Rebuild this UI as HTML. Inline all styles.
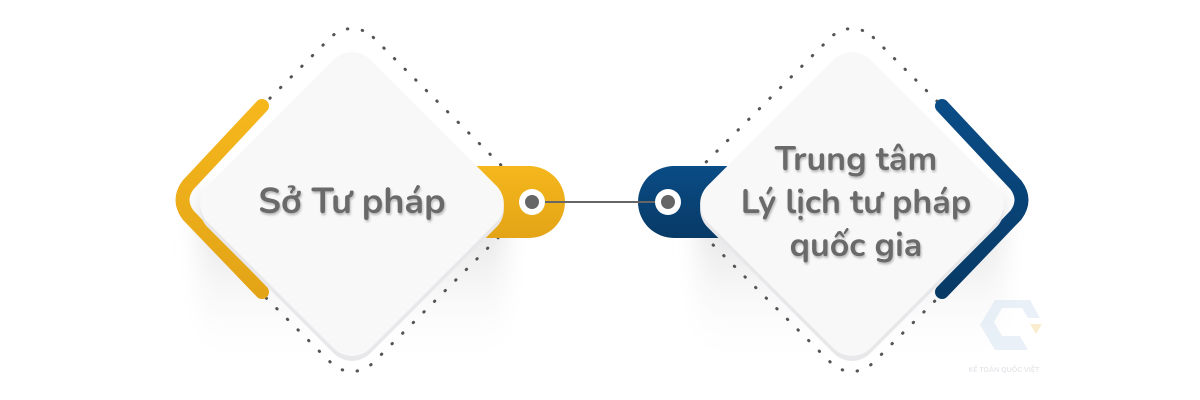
<!DOCTYPE html>
<html><head><meta charset="utf-8"><style>
html,body{margin:0;padding:0;background:#fff;width:1200px;height:400px;overflow:hidden}
text{font-family:"Nunito","Liberation Sans",sans-serif;font-weight:bold;fill:#6a6a6a}
</style></head><body>
<svg width="1200" height="400" viewBox="0 0 1200 400" xmlns="http://www.w3.org/2000/svg">
<defs>
<filter id="blur" x="-30%" y="-30%" width="160%" height="160%"><feGaussianBlur stdDeviation="12"/></filter>
<filter id="ts"><feDropShadow dx="1" dy="2" stdDeviation="1" flood-color="#000" flood-opacity="0.25"/></filter>
<linearGradient id="sh" x1="0" y1="0" x2="0" y2="1"><stop offset="0" stop-color="#d8d8d8"/><stop offset="1" stop-color="#fff" stop-opacity="0"/></linearGradient>
<linearGradient id="yel" x1="0" y1="0" x2="0" y2="1"><stop offset="0" stop-color="#f5b71c"/><stop offset="1" stop-color="#e3a417"/></linearGradient>
<linearGradient id="blu" x1="0" y1="0" x2="0" y2="1"><stop offset="0" stop-color="#0a4c86"/><stop offset="1" stop-color="#083a66"/></linearGradient>
</defs>

<rect x="200" y="195" width="305" height="175" fill="url(#sh)" filter="url(#blur)"/>
<rect x="698" y="195" width="305" height="175" fill="url(#sh)" filter="url(#blur)"/>

<rect x="222" y="70" width="260" height="260" rx="30" transform="rotate(45 352 200)" fill="none" stroke="#555" stroke-width="3" stroke-linecap="round" stroke-dasharray="0.5 14.5"/>
<rect x="722" y="70" width="260" height="260" rx="30" transform="rotate(45 852 200)" fill="none" stroke="#555" stroke-width="3" stroke-linecap="round" stroke-dasharray="0.5 14.5"/>

<path d="M470 166 H529 A36 36 0 0 1 529 238 H470 Z" fill="url(#yel)"/>
<path d="M730 166 H674 A36 36 0 0 0 674 238 H730 Z" fill="url(#blu)"/>

<path d="M262 106 L188 185 Q177 200 188 215 L262 292" fill="none" stroke="url(#yel)" stroke-width="14" stroke-linecap="round" stroke-linejoin="round"/>
<path d="M942 106 L1016 185 Q1027 200 1016 215 L942 292" fill="none" stroke="url(#blu)" stroke-width="14" stroke-linecap="round" stroke-linejoin="round"/>

<rect x="237" y="94" width="230" height="230" rx="26" transform="rotate(45 352 209)" fill="#e8e8ea"/>
<rect x="237" y="89" width="230" height="230" rx="26" transform="rotate(45 352 204)" fill="#f8f8f8"/>
<rect x="737" y="94" width="230" height="230" rx="26" transform="rotate(45 852 209)" fill="#e8e8ea"/>
<rect x="737" y="89" width="230" height="230" rx="26" transform="rotate(45 852 204)" fill="#f8f8f8"/>

<line x1="532" y1="202" x2="668" y2="202" stroke="#666" stroke-width="2"/>
<circle cx="532" cy="202" r="13" fill="#fff"/><circle cx="532" cy="202" r="7" fill="#666"/>
<circle cx="668" cy="202" r="13" fill="#fff"/><circle cx="668" cy="202" r="7" fill="#666"/>

<g filter="url(#ts)">
<text x="352" y="213" font-size="36" text-anchor="middle">Sở Tư pháp</text>
<text x="856" y="170" font-size="34" text-anchor="middle">Trung tâm</text>
<text x="856" y="213" font-size="34" text-anchor="middle">Lý lịch tư pháp</text>
<text x="856" y="256" font-size="34" text-anchor="middle">quốc gia</text>
</g>

<g opacity="0.5">
<path d="M995 300 L1030 300 L1040 318 L1028 318 L1022 308 L1002 308 L994 322 L1002 336 L1020 336 L1028 350 L995 350 L980 325 Z" fill="#d4e3f2"/>
<path d="M1030 324 L1042 324 L1036 334 Z" fill="#f7dca0"/>
<text x="1004" y="372" font-size="7" text-anchor="middle" style="fill:#c8ccd2">KẾ TOÁN QUỐC VIỆT</text>
</g>
</svg>
</body></html>
